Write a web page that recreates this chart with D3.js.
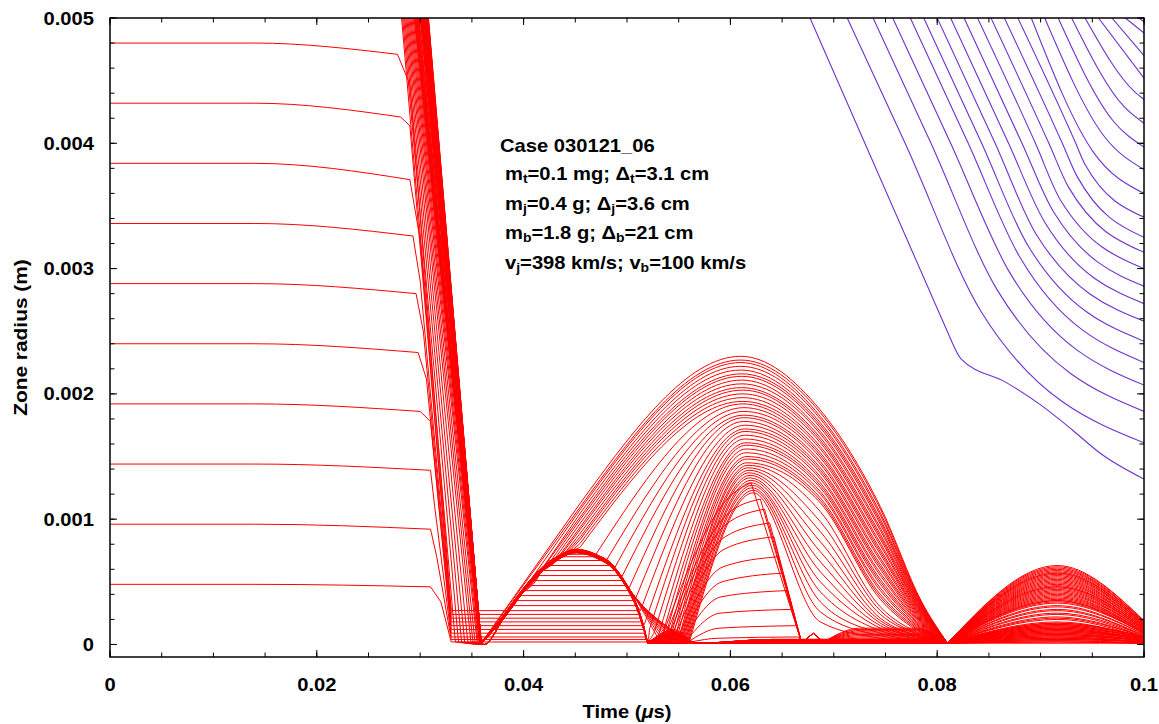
<!DOCTYPE html>
<html>
<head>
<meta charset="utf-8">
<title>Zone radius vs time</title>
<script src="https://cdn.jsdelivr.net/npm/d3@7"></script>
<style>
  html, body { margin: 0; background: #fff; }
  svg { display: block; }
  text { font-family: "Liberation Sans", Arial, Helvetica, sans-serif; font-weight: bold; fill: #000; }
</style>
</head>
<body>
<svg id="chart" width="1159" height="724"></svg>
<script>
// ---------------- axes ----------------
const xTickValues = [0, 0.02, 0.04, 0.06, 0.08, 0.1];
const xTickLabels = ["0", "0.02", "0.04", "0.06", "0.08", "0.1"];
const yTickValues = [0, 0.001, 0.002, 0.003, 0.004, 0.005];
const yTickLabels = ["0", "0.001", "0.002", "0.003", "0.004", "0.005"];

// ---------------- shared event times (µs) ----------------
const compressionStartT = 0.014;   // inner zones start to move
const firstBounceT = 0.0359;       // first stagnation
const shoulderT = 0.0455;          // reference time on the rising front
const legT = [0.0687, 0.0745, 0.0785];
const secondBounceT = 0.0810;
const secondPeakT = 0.0916;
const endT = 0.1;
const bumpT = [0.0520, 0.0545, 0.0568];
const lowT = [0.0640, 0.0785];
const jagV = [[0.0669, 0.00001], [0.0680, 0.00009], [0.0690, 0.00002]];
const jagLowT = [0.0725, 0.0780];

// outline of the first small rebound (innermost zones)
const domeT = [0.0362, 0.0380, 0.0397, 0.0416, 0.0432, 0.0451, 0.0470, 0.0487, 0.0500, 0.0510, 0.0516, 0.0520];
const domeR = [0.00000, 0.00020, 0.00039, 0.00057, 0.00067, 0.00073, 0.00069, 0.00060, 0.00045, 0.00028, 0.00013, 0.00001];

// ---------------- innermost zones (visible at t = 0) ----------------
const innerStartR = [0.00048, 0.00096, 0.00144, 0.00192, 0.0024, 0.00288, 0.00336, 0.00384, 0.00432, 0.0048];
const innerKinkT  = [0.0310, 0.0310, 0.0310, 0.0300, 0.0298, 0.0296, 0.0293, 0.0290, 0.0281, 0.0278];
const innerKinkR  = [0.00046, 0.00092, 0.00139, 0.00186, 0.00233, 0.00280, 0.00326, 0.00371, 0.00421, 0.00471];
const innerFallT  = [0.0320, 0.0316, 0.0314, 0.0310, 0.0306, 0.0303, 0.0300, 0.0300, 0.0290, 0.0290];
const innerFallR  = [0.00034, 0.00070, 0.00110, 0.00178, 0.00212, 0.00250, 0.00290, 0.00323, 0.00414, 0.00447];

// ---------------- small-rebound family (22 zones, innermost first) ----------------
const sTopT     = [0.0282, 0.0283, 0.0284, 0.0285, 0.0286, 0.0287, 0.0288, 0.0289, 0.0290, 0.0291, 0.0292, 0.0293];
const sArriveT  = [0.0330, 0.0330, 0.0330, 0.0330, 0.0330, 0.0330, 0.0330, 0.0330, 0.0330, 0.0330,
                   0.0334, 0.0337, 0.0340, 0.0343, 0.0346, 0.0349, 0.0351, 0.0353, 0.0355, 0.0356, 0.0357, 0.0358];
const sArriveR  = [0.00002, 0.00004, 0.00006, 0.00009, 0.00012, 0.00015, 0.00018, 0.00021, 0.00024, 0.00027,
                   0.00002, 0.00002, 0.00002, 0.00002, 0.00002, 0.00002, 0.00002, 0.00002, 0.00002, 0.00002, 0.00002, 0.00002];
const sPlateauR = [0.00002, 0.00004, 0.00006, 0.00009, 0.00012, 0.00015, 0.00018, 0.00021, 0.00024, 0.00027,
                   0.00031, 0.00035, 0.00039, 0.00043, 0.00047, 0.00051, 0.00055, 0.00059, 0.00063, 0.00067, 0.00070, 0.00072];
const sLeftT    = [null, null, null, null, null, null, null, null, null, null,
                   0.0389, 0.0393, 0.0397, 0.0400, 0.0405, 0.0410, 0.0414, 0.0417, 0.0420, 0.0425, 0.0436, 0.0440];
const sRightT   = [0.0519, 0.0518, 0.0518, 0.0517, 0.0516, 0.0515, 0.0514, 0.0513, 0.0512, 0.0511,
                   0.0509, 0.0507, 0.0505, 0.0502, 0.0499, 0.0496, 0.0492, 0.0488, 0.0483, 0.0477, 0.0470, 0.0462];
const sBumpR    = [0.00001, 0.00002, 0.00003, 0.00005, 0.00004, 0.00006, 0.00008, 0.00007, 0.00009, 0.00010, 0.00008,
                   0.00006, 0.00004, 0.00003, 0.00005, 0.00007, 0.00009, 0.00011, 0.00012, 0.00010, 0.00008, 0.00006];
const sLowR     = [0.00001, 0.00001, 0.00001, 0.00001, 0.00002, 0.00002, 0.00002, 0.00002, 0.00002, 0.00003, 0.00003,
                   0.00003, 0.00003, 0.00003, 0.00003, 0.00004, 0.00004, 0.00004, 0.00004, 0.00004, 0.00004, 0.00004];
const sTwoR     = [0.00001, 0.00002, 0.00002, 0.00003, 0.00003, 0.00004, 0.00004, 0.00005, 0.00005, 0.00006, 0.00006,
                   0.00007, 0.00007, 0.00008, 0.00008, 0.00009, 0.00009, 0.00010, 0.00010, 0.00011, 0.00011, 0.00012];
const sEndR     = [0.00001, 0.00001, 0.00001, 0.00001, 0.00001, 0.00002, 0.00002, 0.00002, 0.00002, 0.00002, 0.00002,
                   0.00003, 0.00003, 0.00003, 0.00003, 0.00003, 0.00003, 0.00004, 0.00004, 0.00004, 0.00004, 0.00004];

// ---------------- folded family under the big rebound (11 zones, lowest first) ----------------
const jTopT    = [0.02940, 0.02945, 0.02950, 0.02955, 0.02960, 0.02965, 0.02970, 0.02975, 0.02980, 0.02985, 0.02990];
const jHugR    = [0.000002, 0.000004, 0.000006, 0.000008, 0.000010, 0.000012, 0.000014, 0.000016, 0.000018, 0.000020, 0.000022];
const jValleyT = [0.0562, 0.0559, 0.0556, 0.0553, 0.0550, 0.0547, 0.0544, 0.0541, 0.0538, 0.0535, 0.0532];
const jBendT   = [0.0588, 0.0589, 0.0590, 0.0591, 0.0592, 0.0593, 0.0594, 0.0595, 0.0596, 0.0597, 0.0598];
const jBendR   = [0.00005, 0.00013, 0.00025, 0.00038, 0.00050, 0.00062, 0.00076, 0.00086, 0.00096, 0.00104, 0.00117];
const jFallT   = [0.0666, 0.0664, 0.0659, 0.0654, 0.0651, 0.0646, 0.0642, 0.0638, 0.0633, 0.0629, 0.0620];
const jFallR   = [0.00006, 0.00015, 0.00028, 0.00043, 0.00057, 0.00070, 0.00086, 0.00097, 0.00108, 0.00116, 0.00129];
const jLowR    = [0.00003, 0.00004, 0.00005, 0.00006, 0.00007, 0.00008, 0.00009, 0.00010, 0.00011, 0.00012, 0.00013];
const jTwoR    = [0.00012, 0.00013, 0.00013, 0.00014, 0.00014, 0.00015, 0.00015, 0.00016, 0.00016, 0.00017, 0.00017];
const jEndR    = [0.00004, 0.00004, 0.00004, 0.00005, 0.00005, 0.00005, 0.00005, 0.00006, 0.00006, 0.00006, 0.00006];

// ---------------- big-rebound family (44 zones, outermost first) ----------------
const oTopT = [0.03080, 0.03078, 0.03077, 0.03075, 0.03073, 0.03072, 0.03070, 0.03069, 0.03067, 0.03065,
               0.03064, 0.03062, 0.03061, 0.03059, 0.03057, 0.03056, 0.03054, 0.03053, 0.03051, 0.03049,
               0.03048, 0.03046, 0.03045, 0.03043, 0.03041, 0.03040, 0.03038, 0.03037, 0.03035, 0.03033,
               0.03032, 0.03030, 0.03027, 0.03024, 0.03021, 0.03018, 0.03015, 0.03012, 0.03009, 0.03006,
               0.03004, 0.03003, 0.03002, 0.03001];
// where the outer zones leave the small rebound and run up the front
const oDepartT = [null, null, 0.0397, 0.0410, 0.0416, 0.0423, 0.0428, 0.0432, 0.0435, 0.0438, 0.0440, 0.0443, 0.0446, 0.0449];
const oDepartR = [null, null, 0.00040, 0.00051, 0.00058, 0.00063, 0.00066, 0.00068, 0.00070, 0.00071, 0.00072, 0.00073, 0.00074, 0.00075];
const oShoulderR = [0.00113, 0.00110, 0.00108, 0.00105, 0.00102, 0.00100, 0.00097, 0.00094, 0.00092, 0.00089,
                    0.00086, 0.00084, 0.00081, 0.00078, 0.000760, 0.000759, 0.000758, 0.000757, 0.000756, 0.000755,
                    0.000754, 0.000753, 0.000752, 0.000751, 0.000750, 0.000749, 0.000748, 0.000747, 0.000746, 0.000745,
                    0.000744, 0.000743, 0.000742, 0.000741, 0.000740, 0.000739, 0.000738, 0.000737, 0.000736, 0.000735,
                    0.000734, 0.000734, 0.000733, 0.000733];
const oValleyT = [null, null, null, null, null, null, null, null, null, null, null, null, null, null,
                  0.0470, 0.0480, 0.0488, 0.0495, 0.0502, 0.0508, 0.0513, 0.0518, 0.0522, 0.0526,
                  0.0530, 0.0533, 0.0536, 0.0539, 0.0541, 0.0543, 0.0545, 0.0547,
                  0.0549, 0.0550, 0.0551, 0.0552, 0.0553, 0.0554, 0.0555, 0.0556, 0.0557, 0.0558, 0.0559, 0.0560];
const oValleyR = [null, null, null, null, null, null, null, null, null, null, null, null, null, null,
                  0.00072, 0.00067, 0.00061, 0.00054, 0.00045, 0.00036, 0.00027, 0.00019, 0.00013, 0.00009,
                  0.00006, 0.00004, 0.00003, 0.00002, 0.00002, 0.00002, 0.00001, 0.00001,
                  0.00001, 0.00001, 0.00001, 0.00001, 0.00001, 0.00001, 0.00001, 0.00001, 0.00001, 0.00001, 0.00001, 0.00001];
const oPeakT = [0.0610, 0.0610, 0.0610, 0.0610, 0.0610, 0.0611, 0.0611, 0.0611, 0.0611, 0.0611,
                0.0612, 0.0612, 0.0612, 0.0612, 0.0612, 0.0613, 0.0613, 0.0613, 0.0613, 0.0613,
                0.0614, 0.0614, 0.0614, 0.0614, 0.0614, 0.0615, 0.0615, 0.0615, 0.0615, 0.0616,
                0.0616, 0.0616, 0.0617, 0.0617, 0.0618, 0.0618, 0.0619, 0.0619, 0.0620, 0.0620,
                0.0621, 0.0621, 0.0622, 0.0622];
const oPeakR = [0.00230, 0.00227, 0.00225, 0.00222, 0.00219, 0.00216, 0.00214, 0.00211, 0.00208, 0.00205,
                0.00203, 0.00200, 0.00197, 0.00194, 0.00192, 0.00189, 0.00186, 0.00183, 0.00181, 0.00178,
                0.00175, 0.00172, 0.00170, 0.00167, 0.00164, 0.00161, 0.00159, 0.00156, 0.00153, 0.00150,
                0.00148, 0.00145, 0.00143, 0.00141, 0.00139, 0.00137, 0.00135, 0.00133, 0.00131, 0.00129,
                0.00127, 0.00125, 0.00123, 0.00121];
const oLeg1R = [0.00187, 0.00185, 0.00182, 0.00180, 0.00177, 0.00175, 0.00173, 0.00170, 0.00168, 0.00165,
                0.00163, 0.00161, 0.00158, 0.00156, 0.00153, 0.00151, 0.00149, 0.00146, 0.00144, 0.00141,
                0.00139, 0.00137, 0.00134, 0.00132, 0.00129, 0.00127, 0.00125, 0.00122, 0.00120, 0.00117,
                0.00115, 0.00113, 0.00106, 0.00098, 0.00090, 0.00082, 0.00074, 0.00066, 0.00058, 0.00050,
                0.00042, 0.00034, 0.00026, 0.00018];
const oLeg2R = [0.00110, 0.00108, 0.00105, 0.00103, 0.00100, 0.00098, 0.00096, 0.00093, 0.00091, 0.00088,
                0.00086, 0.00084, 0.00081, 0.00079, 0.00076, 0.00074, 0.00072, 0.00069, 0.00067, 0.00064,
                0.00062, 0.00060, 0.00057, 0.00055, 0.00052, 0.00050, 0.00048, 0.00045, 0.00043, 0.00040,
                0.00038, 0.00036, 0.00030, 0.00027, 0.00024, 0.00021, 0.00019, 0.00017, 0.00015, 0.00013,
                0.00011, 0.00009, 0.00007, 0.00005];
const oLeg3R = [0.000340, 0.000332, 0.000324, 0.000316, 0.000308, 0.000300, 0.000292, 0.000284, 0.000276, 0.000268,
                0.000260, 0.000252, 0.000244, 0.000236, 0.000228, 0.000220, 0.000212, 0.000204, 0.000196, 0.000188,
                0.000180, 0.000172, 0.000164, 0.000156, 0.000148, 0.000140, 0.000132, 0.000124, 0.000116, 0.000108,
                0.000100, 0.000092, 0.00008, 0.00007, 0.00007, 0.00006, 0.00006, 0.00005, 0.00005, 0.00004,
                0.00004, 0.00003, 0.00003, 0.00002];
const oTwoR = [0.00063, 0.00062, 0.00061, 0.00060, 0.00059, 0.00058, 0.00057, 0.00057, 0.00056, 0.00055,
               0.00054, 0.00053, 0.00052, 0.00051, 0.00050, 0.00049, 0.00048, 0.00047, 0.00046, 0.00046,
               0.00045, 0.00044, 0.00043, 0.00042, 0.00041, 0.00040, 0.00039, 0.00038, 0.00037, 0.00036,
               0.00035, 0.00035, 0.00034, 0.00033, 0.00031, 0.00030, 0.00028, 0.00027, 0.00025, 0.00024,
               0.00022, 0.00021, 0.00020, 0.00018];
const oEndR = [0.00019, 0.00019, 0.00018, 0.00018, 0.00018, 0.00017, 0.00017, 0.00017, 0.00016, 0.00016,
               0.00016, 0.00015, 0.00015, 0.00015, 0.00014, 0.00014, 0.00014, 0.00013, 0.00013, 0.00013,
               0.00012, 0.00012, 0.00012, 0.00011, 0.00011, 0.00011, 0.00010, 0.00010, 0.00010, 0.00010,
               0.00009, 0.00009, 0.00009, 0.00009, 0.00008, 0.00008, 0.00007, 0.00007, 0.00007, 0.00006,
               0.00006, 0.00006, 0.00005, 0.00005];

// ---------------- outer (blue-violet) zones ----------------
const pTopT  = [0.0677, 0.0713, 0.0738, 0.0757, 0.0774, 0.0787, 0.0800, 0.0813, 0.0826, 0.0839, 0.0852,
                0.0865, 0.0878, 0.0891, 0.0904, 0.0917, 0.0930, 0.0943, 0.0956, 0.0969, 0.0982, 0.0995];
// time at which each line passes r = 0.004 on its steep part
const pCrossT = [null, 0.0769, 0.0794, 0.0813, 0.0830, 0.0843, 0.0856, 0.0869, 0.0882, 0.0895, 0.0908,
                 0.0921, 0.0934, null, null, null, null, null, null, null, null, null];
const pKneeT = [0.0815, 0.0843, 0.0858, 0.0870, 0.0880, 0.0888, 0.0896, 0.0904, 0.0912, 0.0919, 0.0927,
                0.0935, 0.0943, 0.0951, 0.0962, 0.0971, 0.0981, 0.0991, null, null, null, null];
const pKneeR = [0.00240, 0.00265, 0.00283, 0.00297, 0.00309, 0.00318, 0.00327, 0.00337, 0.00346, 0.00355, 0.00365,
                0.00374, 0.00383, 0.00393, 0.00405, 0.00417, 0.00429, 0.00441, null, null, null, null];
const pEndR  = [0.00132, 0.00161, 0.00186, 0.00207, 0.00225, 0.00242, 0.00258, 0.00272, 0.00286, 0.00300, 0.00313,
                0.00325, 0.00341, 0.00360, 0.00379, 0.00397, 0.00416, 0.00435, 0.00452, 0.00470, 0.00488, 0.00497];
// the innermost outer zone bends twice after its knee
const pFirstTailT = [0.0823, 0.0867, 0.0902, 0.0931, 0.0957];
const pFirstTailR = [0.00228, 0.00209, 0.00190, 0.00171, 0.00153];

// ---------------- layout ----------------
const plot = { left: 110, right: 1144, top: 18, bottom: 657 };
const RED = "#ff0000";
const VIOLET = "#7030d0";

const svg = d3.select("#chart");
const x = d3.scaleLinear().domain([0, 0.1]).range([plot.left, plot.right]);
const y = d3.scaleLinear().domain([-0.0001, 0.005]).range([plot.bottom, plot.top]);

svg.append("defs").append("clipPath").attr("id", "plotClip")
  .append("rect")
  .attr("x", plot.left).attr("y", plot.top)
  .attr("width", plot.right - plot.left).attr("height", plot.bottom - plot.top);

const seg = (pts, curve) => d3.line().x(d => x(d[0])).y(d => y(d[1])).curve(curve)(pts);
const LIN = d3.curveLinear, MONO = d3.curveMonotoneX;
const dome = domeT.map((t, k) => [t, domeR[k]]);
const domeTop = d3.max(domeR);

const redPaths = [];

// second rebound, shared by every red zone
function secondRebound(peakR, endR) {
  return seg([[secondBounceT, 0.00001], [secondPeakT, peakR], [endT, endR]], MONO);
}

// small-rebound family
sPlateauR.forEach((h, s) => {
  let d = "";
  if (s < innerStartR.length) {
    const r0 = innerStartR[s];
    d += seg([[0, r0], [compressionStartT, r0], [innerKinkT[s], innerKinkR[s]]], MONO);
    d += seg([[innerKinkT[s], innerKinkR[s]], [innerFallT[s], innerFallR[s]], [sArriveT[s], sArriveR[s]]], LIN);
  } else {
    d += seg([[sTopT[s - innerStartR.length], 0.005], [sArriveT[s], sArriveR[s]]], LIN);
  }
  const pts = [[sArriveT[s], sArriveR[s]]];
  if (sLeftT[s] !== null) {
    dome.slice(0, 5).filter(p => p[1] < h && p[0] < sLeftT[s]).forEach(p => pts.push(p));
    pts.push([sLeftT[s], h]);
  }
  pts.push([sRightT[s], h]);
  dome.slice(6).filter(p => p[1] < h && p[0] > sRightT[s]).forEach(p => pts.push(p));
  d += seg(pts, MONO);
  d += seg([[bumpT[0], 0.00001], [bumpT[1], sBumpR[s]], [bumpT[2], 0.00001],
            [lowT[0], sLowR[s]], [lowT[1], sLowR[s]], [secondBounceT, 0.00001]], MONO);
  d += secondRebound(sTwoR[s], sEndR[s]);
  redPaths.push(d);
});

// folded family
jFallR.forEach((fr, j) => {
  let d = seg([[jTopT[j], 0.005], [firstBounceT - 0.0001, 0.00001]], LIN);
  const hug = [[firstBounceT - 0.0001, 0.00001]];
  dome.slice(1, 9).forEach(p => hug.push([p[0], p[1] + jHugR[j]]));
  hug.push([jValleyT[j], 0.00002]);
  d += seg(hug, MONO);
  d += seg([[jValleyT[j], 0.00002], [jBendT[j], jBendR[j]], [jFallT[j], fr]], MONO);
  d += seg([[jFallT[j], fr], ...jagV], LIN);
  d += seg([jagV[2], [jagLowT[0], jLowR[j]], [jagLowT[1], jLowR[j]], [secondBounceT, 0.00001]], MONO);
  d += secondRebound(jTwoR[j], jEndR[j]);
  redPaths.push(d);
});

// big-rebound family (drawn innermost first so the outer arcs sit on top)
for (let i = oPeakR.length - 1; i >= 0; i--) {
  let d = seg([[oTopT[i], 0.005], [firstBounceT, 0.00001]], LIN);
  const rightLeg = [[oPeakT[i], oPeakR[i]], [legT[0], oLeg1R[i]], [legT[1], oLeg2R[i]],
                    [legT[2], oLeg3R[i]], [secondBounceT, 0.00001]];
  if (oValleyT[i] !== null) {
    // rides over the small rebound, dips, then climbs into its arc
    const off = oShoulderR[i] - domeTop;
    const hug = [[firstBounceT, 0.00001]];
    dome.slice(1).filter(p => p[0] < oValleyT[i]).forEach(p => hug.push([p[0], p[1] + off]));
    hug.push([oValleyT[i], oValleyR[i]]);
    d += seg(hug, MONO);
    d += seg([[oValleyT[i], oValleyR[i]], ...rightLeg], MONO);
  } else {
    // runs up the front directly
    if (oDepartT[i] !== null) {
      const up = [[firstBounceT, 0.00001]];
      dome.slice(1).filter(p => p[0] < oDepartT[i]).forEach(p => up.push(p));
      up.push([oDepartT[i], oDepartR[i]]);
      d += seg(up, MONO);
      d += seg([[oDepartT[i], oDepartR[i]], [shoulderT, oShoulderR[i]]], LIN);
    } else {
      d += seg([[firstBounceT, 0.00001], [shoulderT, oShoulderR[i]]], LIN);
    }
    d += seg([[shoulderT, oShoulderR[i]], ...rightLeg], MONO);
  }
  d += secondRebound(oTwoR[i], oEndR[i]);
  redPaths.push(d);
}

const lines = svg.append("g").attr("clip-path", "url(#plotClip)");
lines.append("g").selectAll("path").data(redPaths).join("path")
  .attr("d", d => d).attr("fill", "none").attr("stroke", RED).attr("stroke-width", 1);

const violetPaths = pTopT.map((t0, k) => {
  if (pKneeT[k] === null) return seg([[t0, 0.005], [endT, pEndR[k]]], LIN);
  if (k === 0) {
    const tail = [[pKneeT[k], pKneeR[k]]];
    pFirstTailT.forEach((t, m) => tail.push([t, pFirstTailR[m]]));
    tail.push([endT, pEndR[k]]);
    return seg([[t0, 0.005], [pKneeT[k], pKneeR[k]]], LIN) + seg(tail, MONO);
  }
  const pts = [[t0, 0.005]];
  if (pCrossT[k] !== null) pts.push([pCrossT[k], 0.004]);
  pts.push([pKneeT[k], pKneeR[k]], [endT, pEndR[k]]);
  return seg(pts, MONO);
});
lines.append("g").selectAll("path").data(violetPaths).join("path")
  .attr("d", d => d).attr("fill", "none").attr("stroke", VIOLET).attr("stroke-width", 1.1);

// ---------------- frame and ticks ----------------
const xMinor = d3.range(0, 0.10001, 0.005);
const yMinor = d3.range(0, 0.00501, 0.0002);
const tickG = svg.append("g").attr("stroke", "#000").attr("stroke-width", 1);
function ticks(values, isMajor, horizontal) {
  const len = isMajor ? 7 : 4.5;
  values.forEach(v => {
    if (horizontal) {
      const px = x(v);
      tickG.append("line").attr("x1", px).attr("x2", px).attr("y1", plot.bottom).attr("y2", plot.bottom - len);
      tickG.append("line").attr("x1", px).attr("x2", px).attr("y1", plot.top).attr("y2", plot.top + len);
    } else {
      const py = y(v);
      tickG.append("line").attr("y1", py).attr("y2", py).attr("x1", plot.left).attr("x2", plot.left + len);
      tickG.append("line").attr("y1", py).attr("y2", py).attr("x1", plot.right).attr("x2", plot.right - len);
    }
  });
}
ticks(xMinor, false, true);
ticks(xTickValues, true, true);
ticks(yMinor, false, false);
ticks(yTickValues, true, false);

svg.append("rect")
  .attr("x", plot.left).attr("y", plot.top)
  .attr("width", plot.right - plot.left).attr("height", plot.bottom - plot.top)
  .attr("fill", "none").attr("stroke", "#000").attr("stroke-width", 1.5);

// ---------------- labels ----------------
const STRETCH = "scale(1.12,1)";
svg.append("g").selectAll("text").data(xTickValues).join("text")
  .attr("transform", v => `translate(${x(v)},691) ${STRETCH}`)
  .attr("text-anchor", "middle").attr("font-size", 18)
  .text((v, k) => xTickLabels[k]);
svg.append("g").selectAll("text").data(yTickValues).join("text")
  .attr("transform", v => `translate(94,${y(v) + 6.5}) ${STRETCH}`)
  .attr("text-anchor", "end").attr("font-size", 18)
  .text((v, k) => yTickLabels[k]);

const xTitle = svg.append("text")
  .attr("transform", `translate(${(plot.left + plot.right) / 2},718) ${STRETCH}`)
  .attr("text-anchor", "middle").attr("font-size", 18);
xTitle.append("tspan").text("Time (");
xTitle.append("tspan").attr("font-style", "italic").text("μ");
xTitle.append("tspan").text("s)");

svg.append("text")
  .attr("transform", `translate(27,${(plot.top + plot.bottom) / 2}) rotate(-90) scale(1.13,1)`)
  .attr("text-anchor", "middle").attr("font-size", 18.5)
  .text("Zone radius (m)");

// ---------------- case annotation ----------------
const note = svg.append("g");
note.append("text").attr("transform", `translate(500,152) ${STRETCH}`).attr("font-size", 18).text("Case 030121_06");
const noteLines = [
  [["m", ""], ["t", "sub"], ["=0.1 mg; Δ", ""], ["t", "sub"], ["=3.1 cm", ""]],
  [["m", ""], ["j", "sub"], ["=0.4 g; Δ", ""], ["j", "sub"], ["=3.6 cm", ""]],
  [["m", ""], ["b", "sub"], ["=1.8 g; Δ", ""], ["b", "sub"], ["=21 cm", ""]],
  [["v", ""], ["j", "sub"], ["=398 km/s; v", ""], ["b", "sub"], ["=100 km/s", ""]]
];
const noteBase = [183, 213, 242, 272];
noteLines.forEach((parts, k) => {
  const t = note.append("text").attr("transform", `translate(505,${noteBase[k]}) ${STRETCH}`).attr("font-size", 18);
  parts.forEach(([str, kind]) => {
    if (kind === "sub") t.append("tspan").attr("font-size", 12.5).attr("dy", 3.5).text(str);
    else t.append("tspan").attr("dy", t.selectAll("tspan").size() ? -3.5 : 0).text(str);
  });
});
</script>
</body>
</html>
